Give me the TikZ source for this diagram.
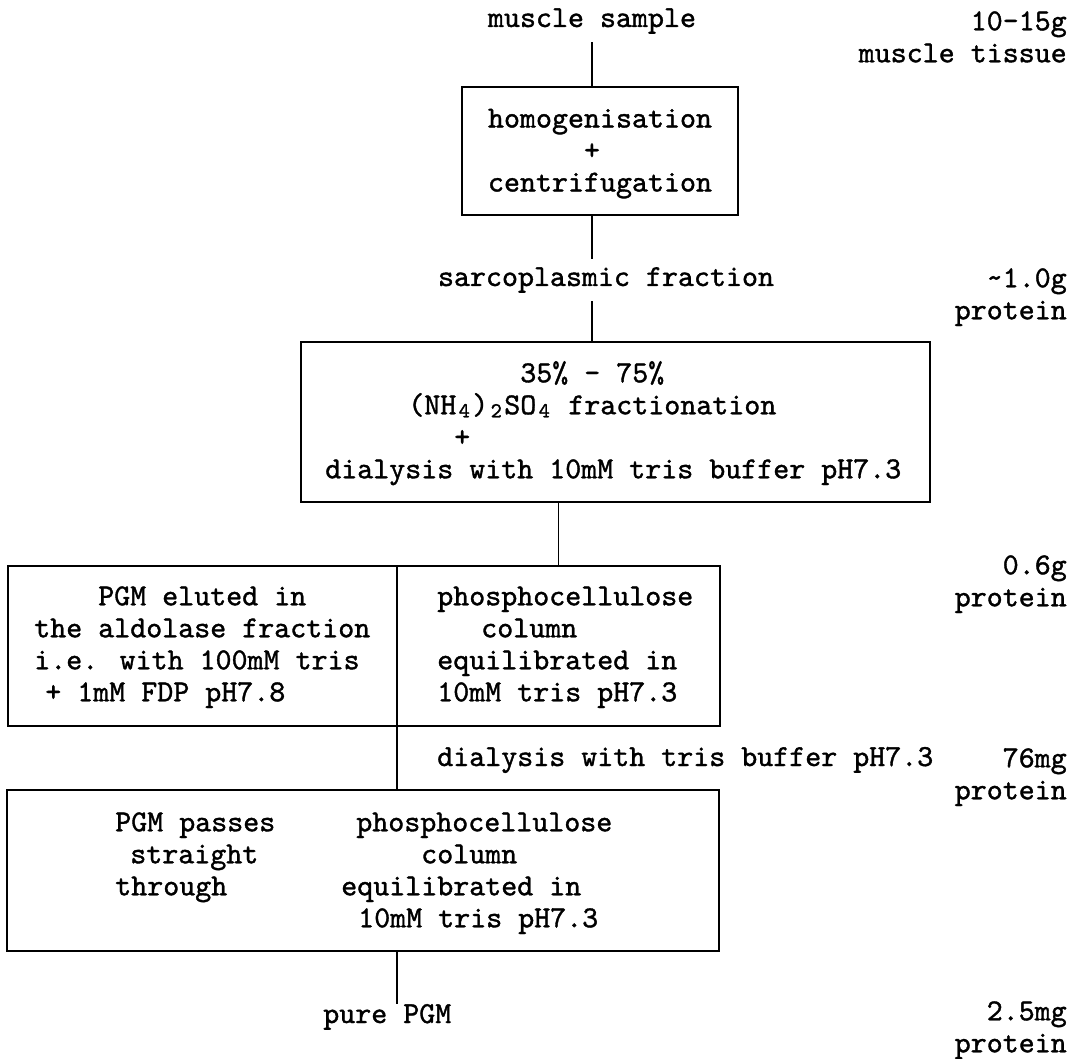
\documentclass[tikz,border=0pt]{standalone}
\usepackage{fontspec}
\newfontfamily\tw{lmmono10-regular.otf}[FakeBold=1.2]
% one typewriter character cell
\newdimen\cw \cw=12pt
\newcommand\ind[1]{\hspace*{#1\cw}}
% lowered subscript digit occupying one character cell
\newcommand\lowc[1]{\makebox[\cw][c]{\raisebox{-0.1em}{\fontsize{16pt}{16pt}\selectfont #1}}}
% strut fixing the height of a first line
\newcommand\fl{\rule{0pt}{18pt}}
\tikzset{
  every node/.style={font=\tw\fontsize{22.857pt}{24pt}\selectfont, text=black},
  lbl/.style={inner xsep=0pt, inner ysep=6pt},
  para/.style={inner sep=0pt, anchor=north west, align=left},
  rpara/.style={inner sep=0pt, anchor=north east, align=right},
  stage/.style 2 args={draw, line width=1.1pt, inner sep=0pt, outer sep=0pt,
    minimum width=#1*0.75pt, minimum height=#2*0.75pt},
  link/.style={line width=1.1pt}}
\begin{document}
\begin{tikzpicture}[x=0.75pt,y=-0.75pt]
\useasboundingbox[fill=white] (0,0) rectangle (1075,1059);

% start material
\node[lbl, anchor=base] (ms) at (592,27) {muscle sample};
\node[rpara] (q1) at (1067,6) {\fl 10-15g\\muscle tissue};

% homogenisation step
\node[stage={276}{128}, align=center] (b1) at (600,151)
  {\fl homogenisation\\\mbox{+\phantom{x}}\\centrifugation};

\node[lbl, anchor=base] (sf) at (606,286) {sarcoplasmic fraction};
\node[rpara] (q2) at (1067,263) {\fl\textasciitilde 1.0g\\protein};

% ammonium sulphate step
\node[stage={629}{160}] (b2) at (615.5,422) {};
\node[para] (t2) at (325,358)
  {\fl\ind{12.19}35\% - 75\%\\
   \ind{5.19}(NH\lowc4)\lowc2SO\lowc4 fractionation\\
   \ind{8.06}+\\
   dialysis with 10mM tris buffer pH7.3};

% first phosphocellulose column
\node[stage={389}{160}] (b3l) at (202.5,646) {};
\node[stage={323}{160}] (b3r) at (558.5,646) {};
\node[para] (t3l) at (34,581)
  {\fl\ind{4}PGM eluted in\\
   the aldolase fraction\\
   i.e. with 100mM tris\\
   \ind{0.69}+ 1mM FDP pH7.8};
\node[para] (t3r) at (437,581)
  {\fl phosphocellulose\\
   \ind{2.75}column\\
   equilibrated in\\
   10mM tris pH7.3};
\node[rpara] (q3) at (1067,550) {\fl 0.6g\\protein};

\node[lbl, anchor=base west] (dl) at (437,766) {dialysis with tris buffer pH7.3};
\node[rpara] (q4) at (1067,743) {\fl 76mg\\protein};

% second phosphocellulose column
\node[stage={712}{161}] (b4) at (363,870.5) {};
\node[para] (t4l) at (115,807)
  {\fl PGM passes\\
   \ind{0.94}straight\\
   through};
\node[para] (t4r) at (341,807)
  {\fl\ind{0.94}phosphocellulose\\
   \ind{5}column\\
   equilibrated in\\
   \ind{1.06}10mM tris pH7.3};

% product
\node[lbl, anchor=base west, inner ysep=0pt] (pp) at (323,1023) {pure PGM};
\node[rpara] (q5) at (1067,996) {\fl 2.5mg\\protein};

% flow lines
\draw[link] (ms.south) -- (b1.north -| ms.south);
\draw[link] (b1.south -| ms.south) -- (sf.north -| ms.south);
\draw[link] (sf.south -| ms.south) -- (b2.north -| ms.south);
\draw[link] (b2.south -| b3r.north) -- (b3r.north);
\draw[link] (b3l.south east) -- (b4.north -| b3l.south east);
\draw[link] (b4.south -| b3l.south east) -- (pp.north -| b3l.south east);
\end{tikzpicture}
\end{document}
